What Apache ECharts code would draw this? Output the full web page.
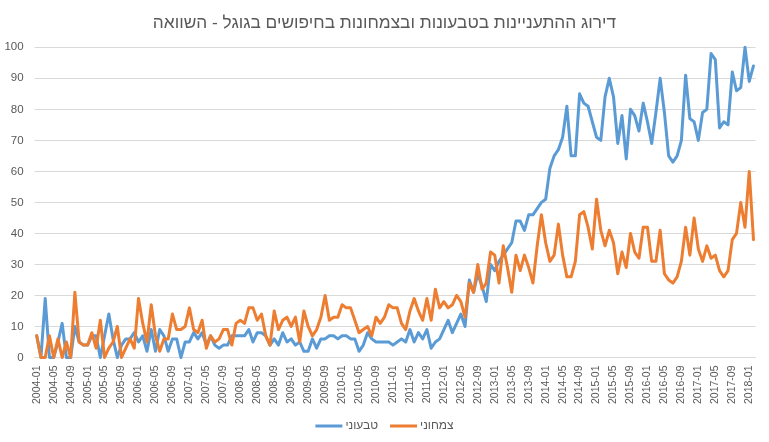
<!DOCTYPE html>
<html>
<head>
<meta charset="utf-8">
<script src="https://cdn.jsdelivr.net/npm/echarts@6/dist/echarts.min.js"></script>
<style>
html,body{margin:0;padding:0;background:#fff;}
#chart{width:769px;height:442px;}
</style>
</head>
<body>
<div id="chart"></div>
<script>
// Monthly categories 2004-01 .. 2018-02
const startYear = 2004, monthCount = 170;
const categories = [];
for (let k = 0; k < monthCount; k++) {
  const y = startYear + Math.floor(k / 12);
  const m = (k % 12) + 1;
  categories.push(y + '-' + (m < 10 ? '0' + m : '' + m));
}

const seriesNames = ['טבעוני', 'צמחוני'];
const titleText = 'דירוג ההתעניינות בטבעונות ובצמחונות בחיפושים בגוגל - השוואה';

const veganValues = [
  7,0,19,0,0,5,11,0,0,10,
  5,4,4,7,7,0,7,14,6,0,
  4,6,6,8,5,7,2,9,2,9,
  7,2,6,6,0,5,5,8,6,8,
  4,7,4,3,4,4,7,7,7,7,
  9,5,8,8,7,4,6,4,8,5,
  6,4,5,2,2,6,3,6,6,7,
  7,6,7,7,6,6,2,4,8,6,
  5,5,5,5,4,5,6,5,9,5,
  8,6,9,3,5,6,9,12,8,11,
  14,10,25,21,27,23,18,30,28,31,
  33,35,37,44,44,41,46,46,48,50,
  51,61,65,67,71,81,65,65,85,82,
  81,76,71,70,84,90,84,69,78,64,
  80,78,73,82,76,69,79,90,79,65,
  63,65,70,91,77,76,70,79,80,98,
  96,74,76,75,92,86,87,100,89,94
];

const vegetarianValues = [
  7,0,0,7,0,6,0,5,0,21,
  5,4,4,8,3,12,0,3,5,10,
  0,3,6,3,19,11,5,17,7,2,
  6,6,14,9,9,10,16,9,8,12,
  3,7,5,6,9,9,4,11,12,11,
  16,16,12,14,7,4,15,9,12,13,
  10,13,5,15,10,7,9,13,20,12,
  13,13,17,16,16,12,8,9,10,7,
  13,11,13,17,16,16,11,9,15,19,
  15,12,19,12,22,16,18,16,17,20,
  18,13,24,21,30,22,24,34,33,24,
  36,29,21,33,28,33,29,24,36,46,
  37,31,33,43,33,26,26,31,46,47,
  42,35,51,41,36,41,37,27,34,29,
  40,34,32,42,42,31,31,41,27,25,
  24,26,31,42,33,45,35,31,36,32,
  33,28,26,28,38,40,50,42,60,38
];

const yMin = 0, yMax = 100, yStep = 10;

const chart = echarts.init(document.getElementById('chart'), null, {renderer: 'canvas'});
const FONT = '"Liberation Sans", Arial, sans-serif';
const lineCommon = {
  type: 'line',
  showSymbol: false,
  symbol: 'none',
  smooth: false,
  lineStyle: {width: 3, join: 'round', cap: 'round'}
};
chart.setOption({
  animation: false,
  backgroundColor: '#ffffff',
  color: ['#5B9BD5', '#ED7D31'],
  title: {
    text: titleText,
    left: 'center',
    top: 10,
    textStyle: {fontFamily: FONT, fontSize: 17.3, fontWeight: 'normal', color: '#595959'}
  },
  legend: {
    data: seriesNames,
    left: 'center',
    top: 415,
    icon: 'rect',
    itemWidth: 27,
    itemHeight: 3,
    itemGap: 12,
    textStyle: {fontFamily: FONT, fontSize: 12, color: '#595959', padding: [0, 0, 0, -2]}
  },
  grid: {left: 34.6, right: 13.4, top: 47.3, bottom: 84.5, containLabel: false},
  xAxis: {
    type: 'category',
    data: categories,
    boundaryGap: true,
    axisLine: {show: true, lineStyle: {color: '#D9D9D9', width: 1}},
    axisTick: {show: false},
    axisLabel: {
      interval: 3,
      rotate: 90,
      margin: 8,
      fontFamily: FONT,
      fontSize: 10.5,
      color: '#595959'
    },
    splitLine: {show: false}
  },
  yAxis: {
    type: 'value',
    min: yMin,
    max: yMax,
    interval: yStep,
    axisLine: {show: false},
    axisTick: {show: false},
    axisLabel: {margin: 11, fontFamily: FONT, fontSize: 11.5, color: '#595959'},
    splitLine: {lineStyle: {color: '#D9D9D9', width: 1}}
  },
  series: [
    Object.assign({}, lineCommon, {name: seriesNames[0], data: veganValues}),
    Object.assign({}, lineCommon, {name: seriesNames[1], data: vegetarianValues})
  ]
});
</script>
</body>
</html>
